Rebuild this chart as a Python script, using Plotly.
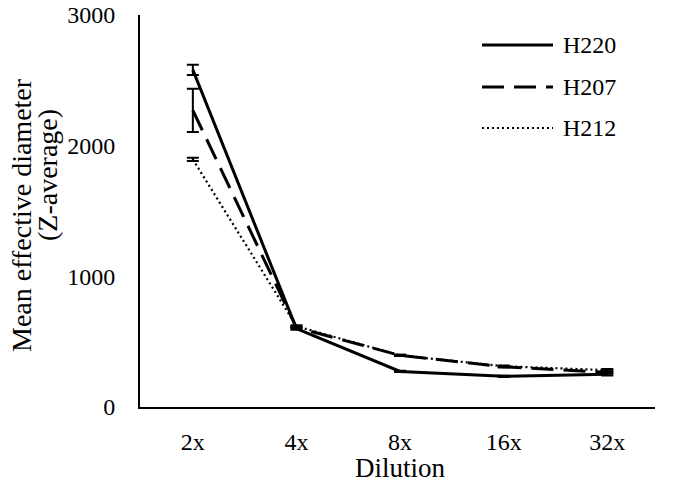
import plotly.graph_objects as go

categories = ["2x", "4x", "8x", "16x", "32x"]
series_names = ["H220", "H207", "H212"]
h220 = [2580, 600, 272, 235, 250]
h207 = [2270, 608, 395, 308, 265]
h212 = [1895, 618, 395, 312, 282]
h220_err = [40, 8, 5, 5, 8]
h207_err = [165, 8, 5, 5, 8]
h212_err = [12, 8, 5, 5, 8]
y_ticks = [0, 1000, 2000, 3000]
x_title = "Dilution"
y_title_lines = ["Mean effective diameter", "(Z-average)"]

FONT = "Liberation Serif"
xs = list(range(len(categories)))

OFF = 8  # page body margin offset
L, R, T, B = 140 - OFF, 655 - OFF, 15 - OFF, 407 - OFF
PW, PH = R - L, B - T


def px(xp):
    return (xp - OFF - L) / PW


def py(yp):
    return (B - (yp - OFF)) / PH


styles = [
    dict(width=3, dash="solid"),
    dict(width=3, dash="22px,10px"),
    dict(width=2.2, dash="2px,3px"),
]

fig = go.Figure()
for name, vals, errs, st in zip(series_names, [h220, h207, h212],
                                [h220_err, h207_err, h212_err], styles):
    fig.add_trace(go.Scatter(
        x=xs, y=vals, mode="lines", name=name,
        line=dict(color="black", width=st["width"], dash=st["dash"]),
        error_y=dict(type="data", array=errs, visible=True,
                     color="black", thickness=2, width=6),
        showlegend=False,
    ))

# custom legend (sample lines + labels)
leg_y = [45, 87, 128]
for name, st, yp in zip(series_names, styles, leg_y):
    yy = py(yp)
    fig.add_shape(type="line", xref="paper", yref="paper",
                  x0=px(482), x1=px(553), y0=yy, y1=yy,
                  line=dict(color="black", width=st["width"], dash=st["dash"]))
    fig.add_annotation(xref="paper", yref="paper", x=px(561), y=yy,
                       text=name, showarrow=False, xanchor="left", yanchor="middle",
                       font=dict(family=FONT, size=24, color="black"))

# axis titles
fig.add_annotation(xref="paper", yref="paper", x=px(400), y=py(468),
                   text=x_title, showarrow=False, xanchor="center", yanchor="middle",
                   font=dict(family=FONT, size=27, color="black"))
fig.add_annotation(xref="paper", yref="paper", x=px(21), y=py(215),
                   text=y_title_lines[0], showarrow=False, textangle=-90,
                   xanchor="center", yanchor="middle",
                   font=dict(family=FONT, size=28, color="black"))
fig.add_annotation(xref="paper", yref="paper", x=px(47), y=py(175),
                   text=y_title_lines[1], showarrow=False, textangle=-90,
                   xanchor="center", yanchor="middle",
                   font=dict(family=FONT, size=28, color="black"))

fig.update_layout(
    width=675, height=484,
    margin=dict(l=L, r=675 - R, t=T, b=484 - B, autoexpand=False),
    paper_bgcolor="white", plot_bgcolor="white",
    font=dict(family=FONT, size=24, color="black"),
    xaxis=dict(
        tickmode="array", tickvals=xs, ticktext=categories,
        range=[-0.51, 4.46], showgrid=False, zeroline=False,
        showline=True, linecolor="black", linewidth=2, ticks="",
        ticklabelstandoff=12, automargin=False, ticklabeloverflow="allow",
    ),
    yaxis=dict(
        range=[0, 3000], tickvals=y_ticks, showgrid=False, zeroline=False,
        showline=True, linecolor="black", linewidth=2, ticks="",
        ticklabelstandoff=18, automargin=False, ticklabeloverflow="allow",
    ),
)

fig.write_html("out.html")
